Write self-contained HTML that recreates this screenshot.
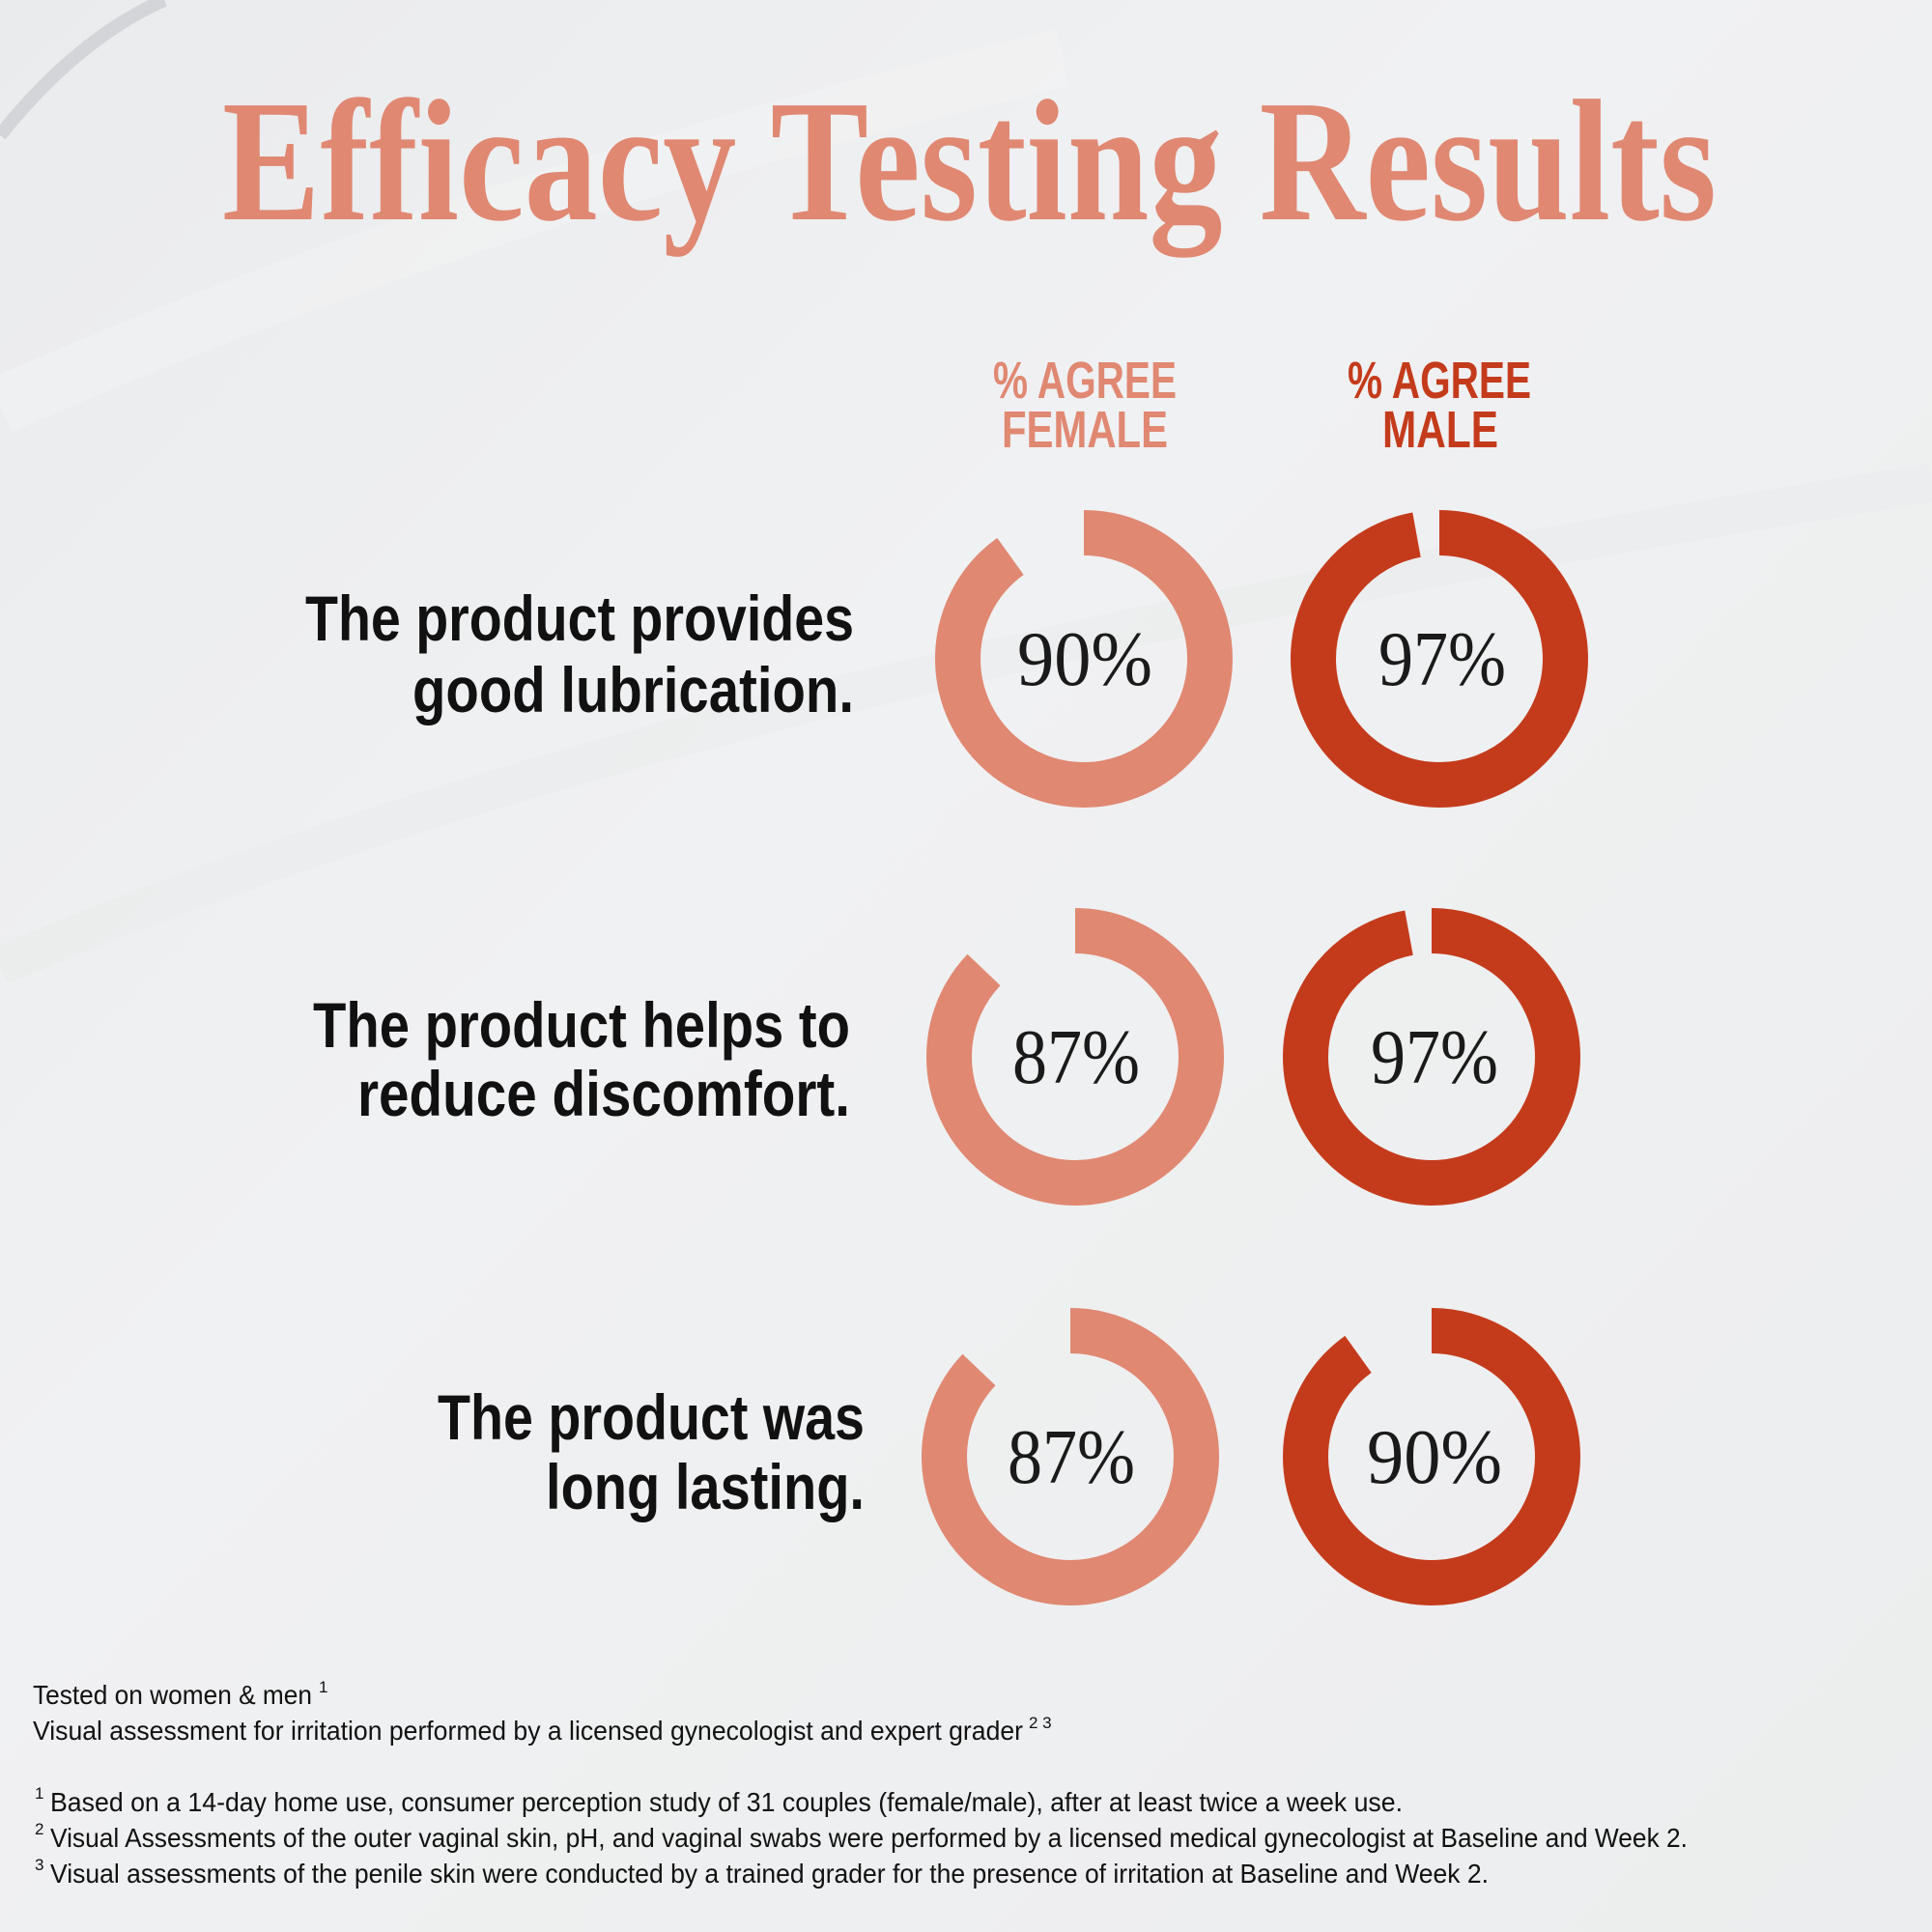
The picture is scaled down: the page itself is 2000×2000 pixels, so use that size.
<!DOCTYPE html>
<html><head><meta charset="utf-8"><style>
html,body{margin:0;padding:0;width:2000px;height:2000px;overflow:hidden;background:#eeeff0}
svg{display:block}
</style></head><body>
<svg width="2000" height="2000" viewBox="0 0 2000 2000" xmlns="http://www.w3.org/2000/svg">
<defs>
<linearGradient id="bg" x1="0" y1="0" x2="1" y2="1">
<stop offset="0" stop-color="#eaebed"/><stop offset="0.4" stop-color="#f0f1f2"/><stop offset="1" stop-color="#ecedee"/>
</linearGradient>
</defs>
<rect width="2000" height="2000" fill="url(#bg)"/>
<path d="M0 420 Q500 200 1100 60" stroke="#f6f6f7" stroke-width="60" fill="none" opacity="0.35"/>
<path d="M0 1000 Q700 700 2000 500" stroke="#e6e7e9" stroke-width="40" fill="none" opacity="0.3"/>
<path d="M0 140 Q80 40 170 0" stroke="#a8acb2" stroke-width="14" fill="none" opacity="0.35"/>

<text x="230" y="227" font-family="Liberation Serif, serif" font-weight="bold" font-size="180" fill="#e08872" textLength="1547" lengthAdjust="spacingAndGlyphs">Efficacy Testing Results</text>

<g font-family="Liberation Sans Narrow, Liberation Sans, sans-serif" font-weight="bold" font-size="54">
<text x="1028" y="412" fill="#e08872" textLength="190" lengthAdjust="spacingAndGlyphs">% AGREE</text>
<text x="1037" y="463" fill="#e08872" textLength="172" lengthAdjust="spacingAndGlyphs">FEMALE</text>
<text x="1395" y="412" fill="#c43b1c" textLength="190" lengthAdjust="spacingAndGlyphs">% AGREE</text>
<text x="1431" y="463" fill="#c43b1c" textLength="120" lengthAdjust="spacingAndGlyphs">MALE</text>
</g>

<g font-family="Liberation Sans Narrow, Liberation Sans, sans-serif" font-weight="bold" font-size="66" fill="#111">
<text x="316" y="663" textLength="568" lengthAdjust="spacingAndGlyphs">The product provides</text>
<text x="427" y="737" textLength="457" lengthAdjust="spacingAndGlyphs">good lubrication.</text>
<text x="324" y="1084" textLength="556" lengthAdjust="spacingAndGlyphs">The product helps to</text>
<text x="370" y="1155" textLength="510" lengthAdjust="spacingAndGlyphs">reduce discomfort.</text>
<text x="453" y="1490" textLength="442" lengthAdjust="spacingAndGlyphs">The product was</text>
<text x="565" y="1562" textLength="330" lengthAdjust="spacingAndGlyphs">long lasting.</text>
</g>

<g fill="none" stroke-width="47">
<circle cx="1122" cy="682" r="130.5" stroke="#e08872" stroke-dasharray="738.5 1000" transform="rotate(-90 1122 682)"/>
<circle cx="1490" cy="682" r="130.5" stroke="#c43b1c" stroke-dasharray="796 1000" transform="rotate(-90 1490 682)"/>
<circle cx="1113" cy="1094" r="130.5" stroke="#e08872" stroke-dasharray="714 1000" transform="rotate(-90 1113 1094)"/>
<circle cx="1482" cy="1094" r="130.5" stroke="#c43b1c" stroke-dasharray="796 1000" transform="rotate(-90 1482 1094)"/>
<circle cx="1108" cy="1508" r="130.5" stroke="#e08872" stroke-dasharray="714 1000" transform="rotate(-90 1108 1508)"/>
<circle cx="1482" cy="1508" r="130.5" stroke="#c43b1c" stroke-dasharray="738.5 1000" transform="rotate(-90 1482 1508)"/>
</g>

<g font-family="Liberation Serif, serif" font-size="80" fill="#1a1a1a" text-anchor="middle">
<text x="1123" y="709" textLength="140" lengthAdjust="spacingAndGlyphs">90%</text>
<text x="1493" y="709" textLength="132" lengthAdjust="spacingAndGlyphs">97%</text>
<text x="1114" y="1121" textLength="132" lengthAdjust="spacingAndGlyphs">87%</text>
<text x="1485" y="1121" textLength="132" lengthAdjust="spacingAndGlyphs">97%</text>
<text x="1109" y="1535" textLength="132" lengthAdjust="spacingAndGlyphs">87%</text>
<text x="1485" y="1535" textLength="140" lengthAdjust="spacingAndGlyphs">90%</text>
</g>

<g font-family="Liberation Sans Narrow, Liberation Sans, sans-serif" font-size="28" fill="#111">
<text x="34" y="1764" textLength="289" lengthAdjust="spacingAndGlyphs">Tested on women &amp; men</text>
<text x="330" y="1752" font-size="17">1</text>
<text x="34" y="1801" textLength="1025" lengthAdjust="spacingAndGlyphs">Visual assessment for irritation performed by a licensed gynecologist and expert grader</text>
<text x="1065" y="1789" font-size="17">2 3</text>
<text x="36" y="1862" font-size="17">1</text>
<text x="52" y="1875" textLength="1400" lengthAdjust="spacingAndGlyphs">Based on a 14-day home use, consumer perception study of 31 couples (female/male), after at least twice a week use.</text>
<text x="36" y="1899" font-size="17">2</text>
<text x="52" y="1912" textLength="1695" lengthAdjust="spacingAndGlyphs">Visual Assessments of the outer vaginal skin, pH, and vaginal swabs were performed by a licensed medical gynecologist at Baseline and Week 2.</text>
<text x="36" y="1936" font-size="17">3</text>
<text x="52" y="1949" textLength="1489" lengthAdjust="spacingAndGlyphs">Visual assessments of the penile skin were conducted by a trained grader for the presence of irritation at Baseline and Week 2.</text>
</g>
</svg>
</body></html>
